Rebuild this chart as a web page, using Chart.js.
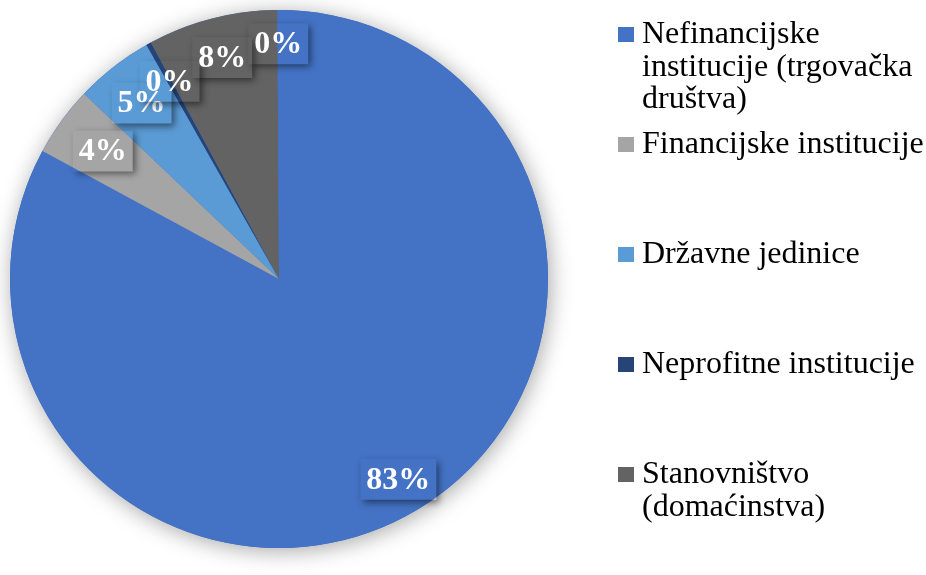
<!DOCTYPE html>
<html>
<head>
<meta charset="utf-8">
<script src="https://cdn.jsdelivr.net/npm/chart.js@4.4.0/dist/chart.umd.min.js"></script>
<style>
  html, body { margin: 0; padding: 0; background: #fff; }
  #wrap { position: relative; width: 926px; height: 575px; overflow: hidden; }
  #Chart { position: absolute; left: 0; top: 0; }
  #legend {
    position: absolute; left: 618px; top: 0; width: 308px;
    font-family: "Liberation Serif", "Times New Roman", serif;
    font-size: 32px; line-height: 32.5px; color: #000;
  }
  .item { position: absolute; left: 0; }
  .item .box { position: absolute; left: 0; top: 11px; width: 16px; height: 15px; }
  .item .txt { position: absolute; left: 24px; top: 0; width: 290px; }
</style>
</head>
<body>
<div id="wrap">
  <canvas id="Chart" width="926" height="575"></canvas>
  <div id="legend"></div>
</div>
<script>
// sektori (legend) + zadnji mali ostatak koji nije u legendi
const categories = [
  "Nefinancijske institucije (trgovačka društva)",
  "Financijske institucije",
  "Državne jedinice",
  "Neprofitne institucije",
  "Stanovništvo (domaćinstva)"
];
const shares = [82.9, 4.2, 4.7, 0.3, 7.8, 0.1];
const colors = ["#4472C4", "#A5A5A5", "#5B9BD5", "#264478", "#636363", "#4472C4"];

// koliko daleko od centra stoji oznaka (dio radijusa)
const labelRadius = [0.867, 0.81, 0.83, 0.84, 0.85, 0.875];

const labels = categories.concat([""]);
const total = shares.reduce((a, b) => a + b, 0);

// sjena ispod cijele pite
const pieShadow = {
  id: "pieShadow",
  beforeDatasetsDraw(chart) {
    const arc = chart.getDatasetMeta(0).data[0];
    if (!arc) return;
    const ctx = chart.ctx;
    ctx.save();
    ctx.shadowColor = "rgba(0,0,0,0.35)";
    ctx.shadowBlur = 22;
    ctx.shadowOffsetX = 2;
    ctx.shadowOffsetY = 3;
    ctx.fillStyle = colors[0];
    ctx.beginPath();
    ctx.arc(arc.x, arc.y, arc.outerRadius, 0, Math.PI * 2);
    ctx.fill();
    ctx.restore();
  }
};

// postotci u prozirnim kutijicama sa sjenom
const boxLabels = {
  id: "boxLabels",
  afterDatasetsDraw(chart) {
    const ctx = chart.ctx;
    const meta = chart.getDatasetMeta(0);
    const W = chart.width, H = chart.height;
    ctx.save();
    ctx.font = "bold 32px 'Liberation Serif', 'Times New Roman', serif";
    ctx.textAlign = "center";
    ctx.textBaseline = "middle";
    meta.data.forEach((arc, i) => {
      const text = Math.round(shares[i] / total * 100) + "%";
      const mid = (arc.startAngle + arc.endAngle) / 2;
      const r = arc.outerRadius * labelRadius[i];
      const x = arc.x + Math.cos(mid) * r;
      const y = arc.y + Math.sin(mid) * r;
      const w = ctx.measureText(text).width + 12;
      const h = 41;
      const bx = x - w / 2, by = y - h / 2;

      // samo sjena, izvan kutije
      ctx.save();
      ctx.beginPath();
      ctx.rect(0, 0, W, H);
      ctx.rect(bx, by, w, h);
      ctx.clip("evenodd");
      ctx.shadowColor = "rgba(0,0,0,0.5)";
      ctx.shadowBlur = 7;
      ctx.shadowOffsetX = 10000 + 3;
      ctx.shadowOffsetY = 3;
      ctx.fillStyle = "#000";
      ctx.fillRect(bx - 10000, by, w, h);
      ctx.restore();

      ctx.fillStyle = "#fff";
      ctx.fillText(text, x, y + 1);
    });
    ctx.restore();
  }
};

const c = document.getElementById("Chart");
new Chart(c, {
  type: "pie",
  data: {
    labels: labels,
    datasets: [{
      data: shares,
      backgroundColor: colors,
      borderWidth: 0
    }]
  },
  options: {
    responsive: false,
    animation: false,
    layout: { padding: { left: 10, top: 10, right: 378, bottom: 27 } },
    plugins: {
      legend: { display: false },
      tooltip: { enabled: false }
    }
  },
  plugins: [pieShadow, boxLabels]
});

// legenda
const legend = document.getElementById("legend");
categories.forEach((name, i) => {
  const item = document.createElement("div");
  item.className = "item";
  item.style.top = (16 + i * 110) + "px";
  item.innerHTML = '<div class="box" style="background:' + colors[i] + '"></div>' +
    '<div class="txt">' + name + '</div>';
  legend.appendChild(item);
});
</script>
</body>
</html>
